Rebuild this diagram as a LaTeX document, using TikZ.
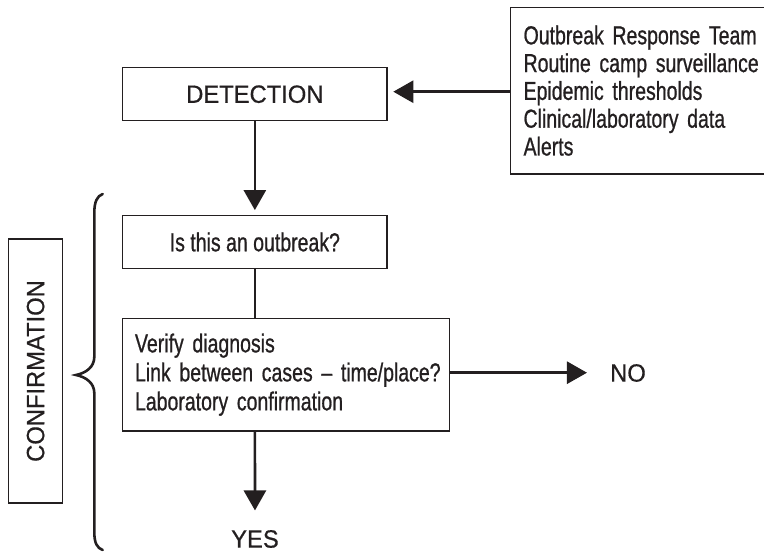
\documentclass[tikz,border=0pt]{standalone}
\usepackage{fontspec}
\setmainfont{Liberation Sans}[FakeStretch=0.95,FakeBold=0.6]
\newfontfamily\condfont{Liberation Sans}[FakeStretch=0.75,FakeBold=0.8]
\usetikzlibrary{arrows.meta}
\definecolor{ink}{RGB}{35,31,32}
\begin{document}
\begin{tikzpicture}[x=1pt,y=-1pt,
  box/.style={draw=ink, line width=1.2pt, inner sep=0pt},
  caps/.style={font=\fontsize{25}{28}\selectfont, text=ink},
  cond/.style={font=\condfont\fontsize{26}{28}\selectfont, text=ink},
  arr/.style={draw=ink, line width=2.7pt, -{Triangle[length=20pt,width=22pt]}},
  link/.style={draw=ink, line width=2.7pt}]
\useasboundingbox (0,0) rectangle (764,552);

\node[box, caps, minimum width=264.3pt, minimum height=53pt] (det) at (254.85,94.2) {DETECTION};
\node[box, cond, minimum width=264.3pt, minimum height=52.6pt] (q) at (254.85,242) {Is this an outbreak?};
\node[box, cond, align=left, text width=302pt, inner xsep=12.3pt, inner ysep=0pt,
      minimum height=112.7pt, font=\condfont\fontsize{26}{29}\selectfont] (ver) at (286,374.65)
  {Verify diagnosis\\\mbox{Link between cases – time/place?}\\Laboratory confirmation};
\node[box, cond, anchor=north west, align=left, text width=240pt, inner xsep=13pt, inner ysep=0pt,
      minimum height=166.6pt, font=\condfont\fontsize{26}{27.8}\selectfont] (src) at (510,6.7)
  {Outbreak Response Team\\Routine camp surveillance\\Epidemic thresholds\\Clinical/laboratory data\\Alerts};
\node[box, caps, rotate=90, minimum width=264pt, minimum height=54.2pt] (conf) at (35.6,371) {CONFIRMATION};
\node[caps, inner sep=0pt] (no) at (628,373) {NO};
\node[caps, inner sep=0pt] (yes) at (255,539) {YES};

\draw[arr, shorten >=5.7pt] (src.west |- 0,91.7) -- (det.east |- 0,91.7);
\draw[arr, shorten >=5pt] (det.south) -- (q.north);
\draw[link] (q.south) -- (q.south |- ver.north);
\draw[arr, shorten >=23pt] (ver.east |- 0,372.7) -- (no.west |- 0,372.7);
\draw[arr, shorten >=19.5pt] (q.south |- ver.south) -- (yes.north);

\draw[ink, line width=2.6pt, line cap=round]
  (102.7,194) .. controls (97,196) and (94.3,202) .. (94.3,213)
  -- (94.3,357) .. controls (94.3,367) and (86,373) .. (76,375)
  .. controls (86,377) and (94.3,383) .. (94.3,393)
  -- (94.3,532) .. controls (94.3,543) and (97,548) .. (102.7,550);
\end{tikzpicture}
\end{document}
